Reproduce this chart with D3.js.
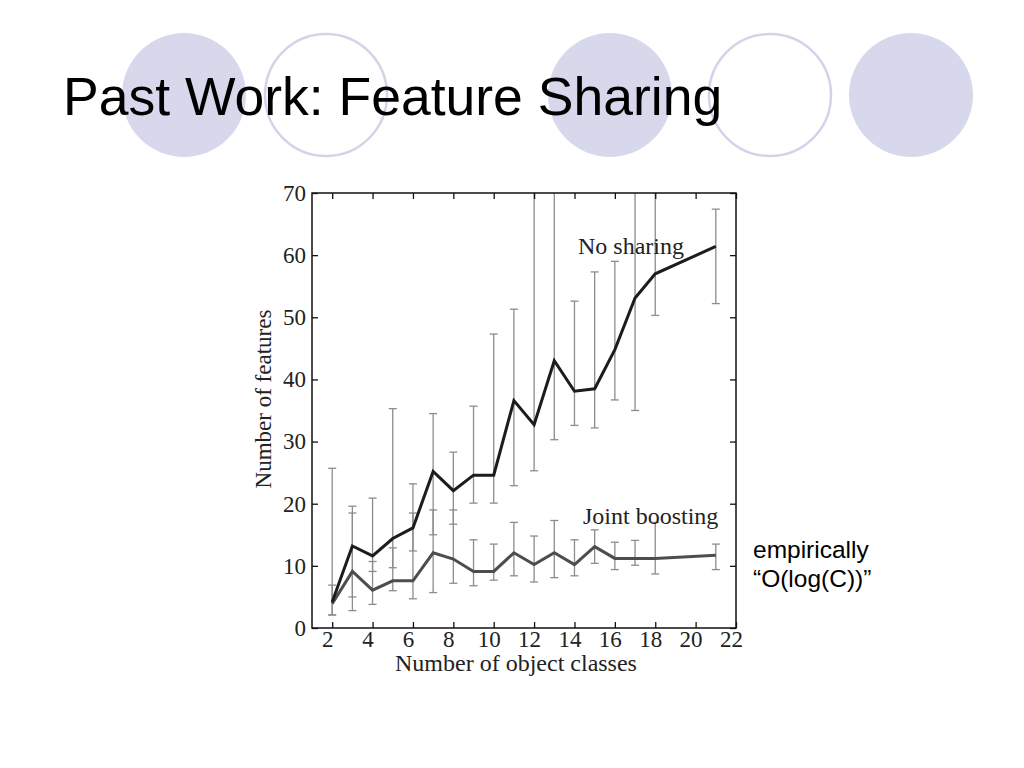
<!DOCTYPE html>
<html>
<head>
<meta charset="utf-8">
<script src="https://cdn.jsdelivr.net/npm/d3@7"></script>
<style>
  html, body { margin: 0; padding: 0; background: #fff; }
  svg { display: block; }
</style>
</head>
<body>
<svg id="chart" width="1024" height="768"></svg>
<script>
// ---- data ----
const title = "Past Work: Feature Sharing";
const classes = [2,3,4,5,6,7,8,9,10,11,12,13,14,15,16,17,18,21];
const noSharing     = [4.2,13.2,11.6,14.4,16.1,25.2,22.1,24.6,24.6,36.6,32.7,43.0,38.1,38.5,44.8,53.1,57.0,61.4];
const noSharingLow  = [2.1,5.0,9.1,9.7,12.4,15.0,16.7,20.1,20.1,22.9,25.3,30.3,32.6,32.2,36.7,35.0,50.3,52.2];
const noSharingHigh = [25.7,19.6,20.9,35.3,23.2,34.5,28.3,35.7,47.3,51.3,80,80,52.6,57.3,59.0,80,80,67.4];
const jointBoosting     = [3.9,9.1,6.1,7.6,7.6,12.1,11.1,9.1,9.1,12.1,10.2,12.1,10.2,13.1,11.2,11.2,11.2,11.7];
const jointBoostingLow  = [2.1,2.8,3.8,6.0,4.7,5.7,7.2,6.8,7.7,8.4,7.4,8.1,8.4,10.4,9.4,10.1,8.7,9.4];
const jointBoostingHigh = [6.9,18.5,10.7,12.9,18.5,19.0,19.0,14.2,13.5,17.0,14.8,17.3,14.2,15.8,13.8,14.1,17.0,13.5];
const xTicks = [2,4,6,8,10,12,14,16,18,20,22];
const yTicks = [0,10,20,30,40,50,60,70];
const decoCircles = [
  {cx: 184, filled: true}, {cx: 326, filled: false}, {cx: 610, filled: true},
  {cx: 770, filled: false}, {cx: 911, filled: true}
];

const svg = d3.select("#chart");

// decorative circles
svg.selectAll("circle.deco").data(decoCircles).enter().append("circle")
  .attr("cx", d => d.cx).attr("cy", 95).attr("r", d => d.filled ? 62 : 61)
  .attr("fill", d => d.filled ? "#d8d8ed" : "none")
  .attr("stroke", d => d.filled ? "none" : "#d3d3ea")
  .attr("stroke-width", 2.5);

svg.append("text").attr("x", 63).attr("y", 115)
  .attr("font-family", "Liberation Sans, Arial, sans-serif")
  .attr("font-size", 53.5).attr("fill", "#000").text(title);

// ---- chart ----
const L = 312, R = 736, T = 193, B = 628;
const x = d3.scaleLinear().domain([1, 22]).range([L, R]);
const y = d3.scaleLinear().domain([0, 70]).range([B, T]);
const serif = "Liberation Serif, Times New Roman, serif";

svg.append("defs").append("clipPath").attr("id", "plotclip")
  .append("rect").attr("x", L).attr("y", T).attr("width", R - L).attr("height", B - T);

const plot = svg.append("g").attr("clip-path", "url(#plotclip)");

function errorBars(low, high, cls) {
  const g = plot.append("g").attr("class", cls)
    .attr("stroke", "#8c8c8c").attr("stroke-width", 1.3).attr("fill", "none");
  classes.forEach((c, i) => {
    const cx = x(c);
    g.append("line").attr("x1", cx).attr("x2", cx).attr("y1", y(low[i])).attr("y2", y(high[i]));
    g.append("line").attr("x1", cx - 4).attr("x2", cx + 4).attr("y1", y(low[i])).attr("y2", y(low[i]));
    g.append("line").attr("x1", cx - 4).attr("x2", cx + 4).attr("y1", y(high[i])).attr("y2", y(high[i]));
  });
}
errorBars(noSharingLow, noSharingHigh, "ns-err");
errorBars(jointBoostingLow, jointBoostingHigh, "jb-err");

const line = d3.line().x(d => x(d[0])).y(d => y(d[1]));
plot.append("path").datum(classes.map((c, i) => [c, jointBoosting[i]]))
  .attr("d", line).attr("fill", "none").attr("stroke", "#4d4d4d")
  .attr("stroke-width", 3).attr("stroke-linejoin", "miter");
plot.append("path").datum(classes.map((c, i) => [c, noSharing[i]]))
  .attr("d", line).attr("fill", "none").attr("stroke", "#1c1c1c")
  .attr("stroke-width", 3).attr("stroke-linejoin", "miter");

// axes (ticks pointing inward, MATLAB box)
function styleAxis(g) {
  g.select(".domain").remove();
  g.selectAll(".tick line").attr("stroke", "#111").attr("stroke-width", 1.3);
  g.selectAll("text").attr("font-family", serif).attr("font-size", 23).attr("fill", "#222");
}
svg.append("g").attr("transform", `translate(0,${B})`)
  .call(d3.axisBottom(x).tickValues(xTicks).tickSizeInner(-6).tickSizeOuter(0).tickPadding(3))
  .call(styleAxis)
  .call(g => g.selectAll("text").attr("dx", -5));
svg.append("g").attr("transform", `translate(0,${T})`)
  .call(d3.axisTop(x).tickValues(xTicks).tickSizeInner(-6).tickSizeOuter(0).tickFormat(""))
  .call(styleAxis);
svg.append("g").attr("transform", `translate(${L},0)`)
  .call(d3.axisLeft(y).tickValues(yTicks).tickSizeInner(-6).tickSizeOuter(0).tickPadding(6))
  .call(styleAxis);
svg.append("g").attr("transform", `translate(${R},0)`)
  .call(d3.axisRight(y).tickValues(yTicks).tickSizeInner(-6).tickSizeOuter(0).tickFormat(""))
  .call(styleAxis);

svg.append("rect").attr("x", L).attr("y", T).attr("width", R - L).attr("height", B - T)
  .attr("fill", "none").attr("stroke", "#111").attr("stroke-width", 1.5);

// labels
svg.append("text").attr("x", 516).attr("y", 671).attr("text-anchor", "middle")
  .attr("font-family", serif).attr("font-size", 24).attr("fill", "#222")
  .text("Number of object classes");
svg.append("text").attr("transform", "translate(271,399) rotate(-90)").attr("text-anchor", "middle")
  .attr("font-family", serif).attr("font-size", 23).attr("fill", "#222")
  .text("Number of features");
svg.append("text").attr("x", 578).attr("y", 254)
  .attr("font-family", serif).attr("font-size", 24).attr("fill", "#222").text("No sharing");
svg.append("text").attr("x", 583).attr("y", 524)
  .attr("font-family", serif).attr("font-size", 24).attr("fill", "#222").text("Joint boosting");

// side note
const note = svg.append("text").attr("font-family", "Liberation Sans, Arial, sans-serif")
  .attr("font-size", 24.5).attr("fill", "#000");
note.append("tspan").attr("x", 753).attr("y", 558).text("empirically");
note.append("tspan").attr("x", 753).attr("y", 587).text("\u201CO(log(C))\u201D");
</script>
</body>
</html>
